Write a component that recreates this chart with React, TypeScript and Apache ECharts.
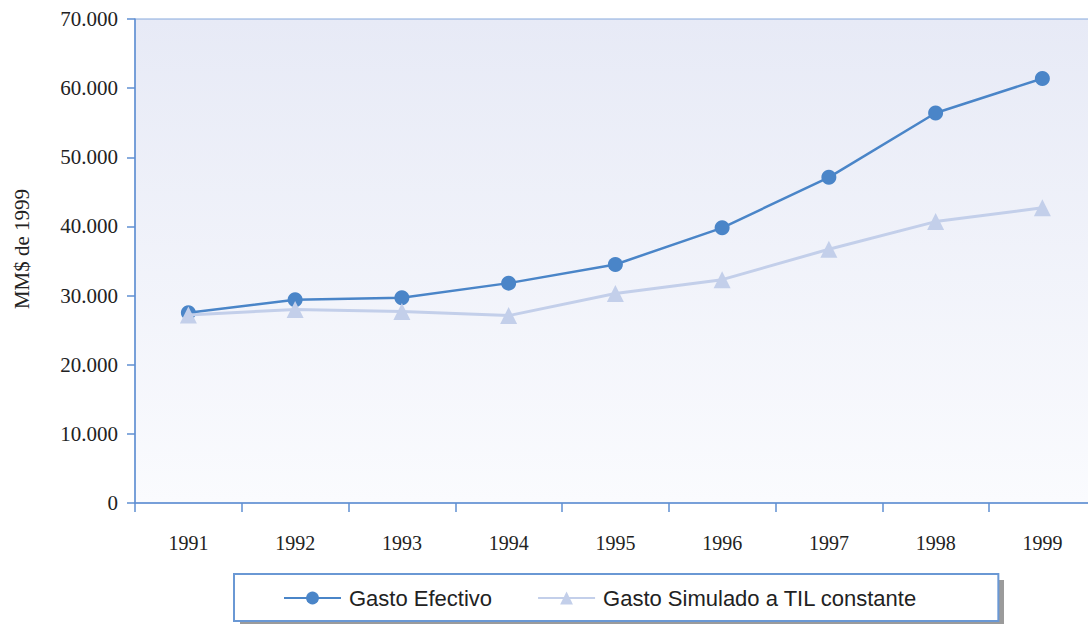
import React, { useEffect, useRef } from "react";
import * as echarts from "echarts";

const years = ["1991", "1992", "1993", "1994", "1995", "1996", "1997", "1998", "1999"];
const gastoEfectivo = [27500, 29400, 29700, 31800, 34500, 39800, 47100, 56400, 61400];
const gastoSimulado = [27200, 28000, 27700, 27100, 30300, 32300, 36700, 40700, 42700];
const yTicks = { min: 0, max: 70000, interval: 10000 };

const fmt = (v: number) => String(v).replace(/\B(?=(\d{3})+(?!\d))/g, ".");

export default function App() {
  const ref = useRef<HTMLDivElement>(null);
  useEffect(() => {
    if (!ref.current) return;
    const chart = echarts.init(ref.current, null, { renderer: "svg" });
    const axisColor = "#5f8fd2";
    const serif = "'Liberation Serif', 'Times New Roman', Times, serif";
    chart.setOption({
      animation: false,
      backgroundColor: "#ffffff",
      grid: {
        left: 135,
        top: 19,
        width: 960.75,
        height: 484,
        containLabel: false,
        outerBoundsMode: "none",
        show: true,
        borderColor: "#86a8dc",
        borderWidth: 1,
        backgroundColor: {
          type: "linear",
          x: 0,
          y: 0,
          x2: 0,
          y2: 1,
          colorStops: [
            { offset: 0, color: "#e7eaf6" },
            { offset: 1, color: "#fafbfe" },
          ],
        },
      },
      graphic: [
        {
          type: "rect",
          z: 0,
          shape: { x: 240, y: 580, width: 764, height: 60 },
          style: { fill: "#9b9b9b" },
        },
      ],
      legend: {
        left: 234,
        top: 574,
        padding: [13, 81, 12, 49],
        itemWidth: 57,
        itemHeight: 16,
        itemGap: 45,
        backgroundColor: "#ffffff",
        borderColor: "#6a98d4",
        borderWidth: 2,
        borderRadius: 0,
        textStyle: {
          fontFamily: "'Liberation Sans', Arial, sans-serif",
          fontSize: 22,
          color: "#222222",
          padding: [0, 0, 0, 3],
        },
        data: ["Gasto Efectivo", "Gasto Simulado a TIL constante"],
      },
      xAxis: {
        type: "category",
        data: years,
        boundaryGap: true,
        axisLine: { show: true, lineStyle: { color: axisColor, width: 1.5 } },
        axisTick: { show: true, length: 9, lineStyle: { color: axisColor, width: 1.5 } },
        axisLabel: { margin: 30, fontFamily: serif, fontSize: 20, color: "#222222" },
        splitLine: { show: false },
      },
      yAxis: {
        type: "value",
        min: yTicks.min,
        max: yTicks.max,
        interval: yTicks.interval,
        name: "MM$ de 1999",
        nameLocation: "middle",
        nameRotate: 90,
        nameGap: 103,
        nameTextStyle: { fontFamily: serif, fontSize: 21, color: "#222222", padding: [0, 0, 0, 24] },
        axisLine: { show: true, lineStyle: { color: axisColor, width: 1.5 } },
        axisTick: { show: true, length: 8, lineStyle: { color: axisColor, width: 1.5 } },
        axisLabel: {
          margin: 17,
          fontFamily: serif,
          fontSize: 21,
          color: "#222222",
          formatter: (v: number) => fmt(v),
        },
        splitLine: { show: false },
      },
      series: [
        {
          name: "Gasto Efectivo",
          type: "line",
          data: gastoEfectivo,
          symbol: "circle",
          symbolSize: 15,
          itemStyle: { color: "#4a85c8" },
          lineStyle: { color: "#4a85c8", width: 2.5 },
          z: 2,
        },
        {
          name: "Gasto Simulado a TIL constante",
          type: "line",
          data: gastoSimulado,
          symbol: "triangle",
          symbolSize: 17,
          itemStyle: { color: "#c3cfea" },
          lineStyle: { color: "#c3cfea", width: 3 },
          z: 3,
        },
      ],
    });
    return () => chart.dispose();
  }, []);
  return (
    <div
      ref={ref}
      style={{ position: "fixed", left: 0, top: 0, width: 1088, height: 624 }}
    />
  );
}
